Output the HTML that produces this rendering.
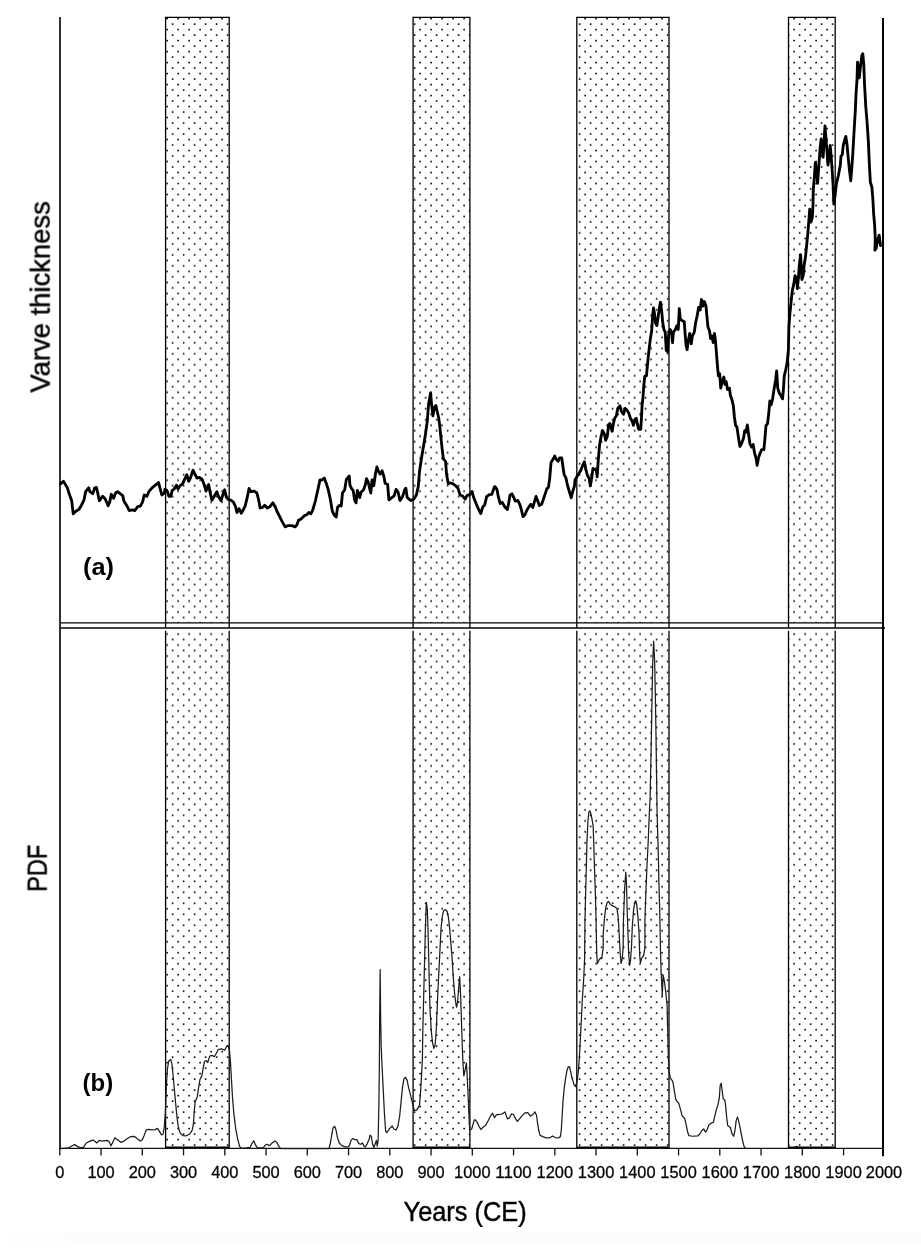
<!DOCTYPE html>
<html><head><meta charset="utf-8"><title>Varve thickness / PDF</title>
<style>html,body{margin:0;padding:0;background:#fff}svg{display:block}text{font-family:"Liberation Sans",sans-serif;fill:#000}</style></head><body>
<svg width="921" height="1250" viewBox="0 0 921 1250">
<defs><pattern id="dots" patternUnits="userSpaceOnUse" x="0" y="0" width="11" height="10.99"><rect x="1.3" y="6.85" width="1.65" height="1.55" fill="#000"/><rect x="6.8" y="1.35" width="1.65" height="1.55" fill="#000"/></pattern></defs>
<rect width="921" height="1250" fill="#fff"/>
<rect x="66" y="1232" width="855" height="10" fill="#fcfcfc"/><rect x="8" y="1233" width="58" height="8" fill="#fdfdfd"/>
<rect x="165.6" y="17.4" width="63.6" height="610.6" fill="url(#dots)"/>
<rect x="165.6" y="630.8" width="63.6" height="516.8" fill="url(#dots)"/>
<rect x="413.1" y="17.4" width="56.8" height="610.6" fill="url(#dots)"/>
<rect x="413.1" y="630.8" width="56.8" height="516.8" fill="url(#dots)"/>
<rect x="576.8" y="17.4" width="92.2" height="610.6" fill="url(#dots)"/>
<rect x="576.8" y="630.8" width="92.2" height="516.8" fill="url(#dots)"/>
<rect x="788.5" y="17.4" width="46.7" height="610.6" fill="url(#dots)"/>
<rect x="788.5" y="630.8" width="46.7" height="516.8" fill="url(#dots)"/>
<rect x="165.6" y="622.9" width="63.6" height="5.1" fill="#fff"/>
<rect x="413.1" y="622.9" width="56.8" height="5.1" fill="#fff"/>
<rect x="576.8" y="622.9" width="92.2" height="5.1" fill="#fff"/>
<rect x="788.5" y="622.9" width="46.7" height="5.1" fill="#fff"/>
<path d="M165.6,628.0 V17.4 H229.2 V628.0" fill="none" stroke="#000" stroke-width="1.3"/>
<path d="M165.6,630.8 V1147.6 H229.2 V630.8" fill="none" stroke="#000" stroke-width="1.3"/>
<line x1="165.6" y1="1147.3" x2="229.2" y2="1147.3" stroke="#000" stroke-width="1.6"/>
<path d="M413.1,628.0 V17.4 H469.9 V628.0" fill="none" stroke="#000" stroke-width="1.3"/>
<path d="M413.1,630.8 V1147.6 H469.9 V630.8" fill="none" stroke="#000" stroke-width="1.3"/>
<line x1="413.1" y1="1147.3" x2="469.9" y2="1147.3" stroke="#000" stroke-width="1.6"/>
<path d="M576.8,628.0 V17.4 H669.0 V628.0" fill="none" stroke="#000" stroke-width="1.3"/>
<path d="M576.8,630.8 V1147.6 H669.0 V630.8" fill="none" stroke="#000" stroke-width="1.3"/>
<line x1="576.8" y1="1147.3" x2="669.0" y2="1147.3" stroke="#000" stroke-width="1.6"/>
<path d="M788.5,628.0 V17.4 H835.2 V628.0" fill="none" stroke="#000" stroke-width="1.3"/>
<path d="M788.5,630.8 V1147.6 H835.2 V630.8" fill="none" stroke="#000" stroke-width="1.3"/>
<line x1="788.5" y1="1147.3" x2="835.2" y2="1147.3" stroke="#000" stroke-width="1.6"/>
<line x1="60" y1="622.9" x2="883" y2="622.9" stroke="#000" stroke-width="1.4"/>
<line x1="60" y1="628.0" x2="885" y2="628.0" stroke="#000" stroke-width="1.3"/>
<line x1="60" y1="17" x2="60" y2="1149.0" stroke="#1a1a1a" stroke-width="1.8"/>
<line x1="883" y1="18" x2="883" y2="1156.2" stroke="#000" stroke-width="2"/>
<line x1="59.2" y1="1148.4" x2="884" y2="1148.4" stroke="#111" stroke-width="1.4"/>
<line x1="59.8" y1="1148.4" x2="59.8" y2="1155.4" stroke="#111" stroke-width="1.3"/>
<line x1="101.05" y1="1148.4" x2="101.05" y2="1155.4" stroke="#111" stroke-width="1.3"/>
<line x1="142.3" y1="1148.4" x2="142.3" y2="1155.4" stroke="#111" stroke-width="1.3"/>
<line x1="183.55" y1="1148.4" x2="183.55" y2="1155.4" stroke="#111" stroke-width="1.3"/>
<line x1="224.8" y1="1148.4" x2="224.8" y2="1155.4" stroke="#111" stroke-width="1.3"/>
<line x1="266.05" y1="1148.4" x2="266.05" y2="1155.4" stroke="#111" stroke-width="1.3"/>
<line x1="307.3" y1="1148.4" x2="307.3" y2="1155.4" stroke="#111" stroke-width="1.3"/>
<line x1="348.55" y1="1148.4" x2="348.55" y2="1155.4" stroke="#111" stroke-width="1.3"/>
<line x1="389.8" y1="1148.4" x2="389.8" y2="1155.4" stroke="#111" stroke-width="1.3"/>
<line x1="431.05" y1="1148.4" x2="431.05" y2="1155.4" stroke="#111" stroke-width="1.3"/>
<line x1="472.3" y1="1148.4" x2="472.3" y2="1155.4" stroke="#111" stroke-width="1.3"/>
<line x1="513.55" y1="1148.4" x2="513.55" y2="1155.4" stroke="#111" stroke-width="1.3"/>
<line x1="554.8" y1="1148.4" x2="554.8" y2="1155.4" stroke="#111" stroke-width="1.3"/>
<line x1="596.05" y1="1148.4" x2="596.05" y2="1155.4" stroke="#111" stroke-width="1.3"/>
<line x1="637.3" y1="1148.4" x2="637.3" y2="1155.4" stroke="#111" stroke-width="1.3"/>
<line x1="678.55" y1="1148.4" x2="678.55" y2="1155.4" stroke="#111" stroke-width="1.3"/>
<line x1="719.8" y1="1148.4" x2="719.8" y2="1155.4" stroke="#111" stroke-width="1.3"/>
<line x1="761.05" y1="1148.4" x2="761.05" y2="1155.4" stroke="#111" stroke-width="1.3"/>
<line x1="802.3" y1="1148.4" x2="802.3" y2="1155.4" stroke="#111" stroke-width="1.3"/>
<line x1="843.55" y1="1148.4" x2="843.55" y2="1155.4" stroke="#111" stroke-width="1.3"/>
<g opacity="0.999" stroke="#111" stroke-width="0.3">
<text x="55.25" y="1178" font-size="16.2" textLength="9.1" lengthAdjust="spacingAndGlyphs" fill="#1a1a1a">0</text>
<text x="87.4" y="1178" font-size="16.2" textLength="27.3" lengthAdjust="spacingAndGlyphs" fill="#1a1a1a">100</text>
<text x="128.65" y="1178" font-size="16.2" textLength="27.3" lengthAdjust="spacingAndGlyphs" fill="#1a1a1a">200</text>
<text x="169.9" y="1178" font-size="16.2" textLength="27.3" lengthAdjust="spacingAndGlyphs" fill="#1a1a1a">300</text>
<text x="211.15" y="1178" font-size="16.2" textLength="27.3" lengthAdjust="spacingAndGlyphs" fill="#1a1a1a">400</text>
<text x="252.4" y="1178" font-size="16.2" textLength="27.3" lengthAdjust="spacingAndGlyphs" fill="#1a1a1a">500</text>
<text x="293.65" y="1178" font-size="16.2" textLength="27.3" lengthAdjust="spacingAndGlyphs" fill="#1a1a1a">600</text>
<text x="334.9" y="1178" font-size="16.2" textLength="27.3" lengthAdjust="spacingAndGlyphs" fill="#1a1a1a">700</text>
<text x="376.15" y="1178" font-size="16.2" textLength="27.3" lengthAdjust="spacingAndGlyphs" fill="#1a1a1a">800</text>
<text x="417.4" y="1178" font-size="16.2" textLength="27.3" lengthAdjust="spacingAndGlyphs" fill="#1a1a1a">900</text>
<text x="454.1" y="1178" font-size="16.2" textLength="36.4" lengthAdjust="spacingAndGlyphs" fill="#1a1a1a">1000</text>
<text x="495.35" y="1178" font-size="16.2" textLength="36.4" lengthAdjust="spacingAndGlyphs" fill="#1a1a1a">1100</text>
<text x="536.6" y="1178" font-size="16.2" textLength="36.4" lengthAdjust="spacingAndGlyphs" fill="#1a1a1a">1200</text>
<text x="577.85" y="1178" font-size="16.2" textLength="36.4" lengthAdjust="spacingAndGlyphs" fill="#1a1a1a">1300</text>
<text x="619.1" y="1178" font-size="16.2" textLength="36.4" lengthAdjust="spacingAndGlyphs" fill="#1a1a1a">1400</text>
<text x="660.35" y="1178" font-size="16.2" textLength="36.4" lengthAdjust="spacingAndGlyphs" fill="#1a1a1a">1500</text>
<text x="701.6" y="1178" font-size="16.2" textLength="36.4" lengthAdjust="spacingAndGlyphs" fill="#1a1a1a">1600</text>
<text x="742.85" y="1178" font-size="16.2" textLength="36.4" lengthAdjust="spacingAndGlyphs" fill="#1a1a1a">1700</text>
<text x="784.1" y="1178" font-size="16.2" textLength="36.4" lengthAdjust="spacingAndGlyphs" fill="#1a1a1a">1800</text>
<text x="825.35" y="1178" font-size="16.2" textLength="36.4" lengthAdjust="spacingAndGlyphs" fill="#1a1a1a">1900</text>
<text x="865.8" y="1178" font-size="16.2" textLength="36.4" lengthAdjust="spacingAndGlyphs" fill="#1a1a1a">2000</text>
<path d="M60.47,483.88 L63.47,481.27 L65.16,484.14 L67.38,487.79 L69.33,494.3 L71.68,500.81 L73.24,513.84 L75.85,511.24 L79.1,509.28 L81.71,504.72 L83.93,500.16 L85.62,491.69 L88.62,487.79 L89.92,491.69 L92.79,493.65 L94.74,487.79 L96.43,487.52 L97.74,493 L99.3,500.81 L102.56,496.25 L105.16,498.86 L108.16,505.77 L109.72,502.12 L111.29,494.3 L113.63,498.21 L115.59,493 L117.54,491.69 L120.15,493.65 L122.75,495.6 L124.06,501.47 L126.66,505.37 L129.27,510.59 L132.52,509.93 L134.74,510.59 L137.74,506.68 L140.34,506.03 L142.56,502.12 L144.25,494.95 L146.86,496.25 L148.81,491.69 L152.07,487.79 L155.33,485.18 L158.58,482.57 L160.28,489.09 L161.84,494.95 L164.45,493 L165,489.09 L166.95,490.39 L168.91,496.25 L170.86,496.25 L172.17,490.39 L174.12,489.09 L176.47,485.18 L178.03,489.09 L179.98,485.83 L182.59,483.88 L184.54,479.32 L186.89,474.76 L188.71,481.27 L190.41,478.01 L193.01,470.2 L194.97,474.1 L196.92,478.01 L199.53,477.36 L202.13,479.32 L204.09,484.53 L206.04,491.04 L208.65,484.53 L209.95,491.69 L211.91,500.16 L214.25,496.25 L216.86,491.69 L218.42,496.25 L221.03,500.81 L222.98,494.3 L224.67,489.74 L226.24,496.91 L228.19,499.51 L230.8,500.16 L233.4,502.12 L235.36,506.03 L236.92,512.54 L239.01,508.63 L241.22,513.19 L243.18,509.93 L245.13,506.03 L247.08,498.21 L249.04,488.44 L250.99,491.69 L254.25,491.04 L256.86,493 L258.55,499.51 L260.11,507.98 L262.72,507.33 L264.67,505.37 L267.28,507.98 L269.89,506.68 L272.88,502.77 L275.1,506.68 L275,506.03 L276.95,511.24 L279.56,516.45 L282.17,521.66 L285.16,526.87 L288.03,525.57 L291.94,525.57 L295.2,526.87 L297.15,524.27 L298.45,520.36 L301.06,519.06 L304.32,515.8 L306.92,514.5 L308.88,512.54 L310.83,513.84 L312.79,509.93 L315.39,500.81 L318,489.09 L319.95,479.97 L321.91,479.97 L324.25,478.01 L326.47,483.88 L328.42,490.39 L330.37,499.51 L332.33,511.24 L334.28,515.15 L336.24,517.1 L337.54,507.33 L339.5,505.37 L341.19,506.03 L342.49,493 L344.71,489.74 L346.4,479.32 L349.27,476.06 L349.92,485.18 L351.87,489.09 L353.18,490.39 L354.48,499.51 L356.04,502.77 L357.35,490.39 L359.69,497.56 L360.99,492.35 L363.6,489.74 L365.55,483.88 L366.47,478.66 L368.16,481.92 L369.46,487.79 L370.77,493 L372.07,479.97 L373.76,485.83 L375.33,474.76 L376.89,466.94 L378.58,471.5 L380.28,474.1 L382.1,470.85 L383.79,476.06 L385.1,483.22 L385.65,483.58 L387.61,484.23 L388.91,499.87 L391.51,497.92 L394.12,495.96 L396.07,489.45 L398.03,492.05 L399.98,500.52 L402.59,496.61 L404.54,490.1 L405.85,488.14 L407.15,497.26 L409.1,499.22 L411.06,500.52 L413.66,499.22 L416.27,495.31 L418.22,486.84 L419.53,471.21 L421.48,458.18 L423.44,446.45 L425.39,434.72 L427.35,420.39 L428.65,403.45 L430.6,393.03 L431.64,404.76 L432.95,415.83 L434.25,408.01 L435.81,405.41 L437.12,411.27 L438.68,417.79 L439.72,425.6 L441.03,438.63 L442.33,450.36 L443.37,458.83 L445.59,461.43 L446.5,473.81 L448.19,483.58 L450.15,482.93 L452.75,483.58 L455.36,485.54 L457.96,488.14 L459.92,494.66 L462.52,495.96 L465.13,499.22 L467.08,495.31 L469.69,494.66 L472.04,491.4 L473.6,497.26 L476.21,503.78 L478.16,508.34 L480.77,513.55 L482.72,507.04 L484.67,505.08 L486.63,496.61 L489.23,494.66 L491.84,494.4 L494.45,486.84 L495,486.68 L496.95,489.28 L498.26,496.45 L500.21,503.62 L502.17,502.31 L504.77,506.87 L507.38,509.48 L508.68,502.96 L509.98,495.15 L511.94,493.84 L513.89,497.75 L515.2,501.01 L517.8,500.36 L519.76,504.27 L521.32,509.48 L523.01,516.64 L524.97,514.69 L526.92,510.13 L528.88,506.87 L530.83,504.27 L532.79,507.52 L534.09,502.96 L536.04,496.45 L538,501.66 L539.3,505.57 L541.64,504.27 L543.21,499.71 L545.16,493.84 L546.86,488.63 L548.42,487.33 L549.72,478.21 L551.03,462.57 L552.98,459.32 L554.67,456.06 L556.24,459.32 L558.19,461.27 L559.5,458.01 L561.71,458.01 L562.75,465.18 L564.06,474.3 L566.01,478.21 L567.31,484.72 L569.27,491.24 L571.22,497.75 L572.79,491.24 L574.48,486.03 L575,480.07 L577.61,475.5 L580.86,470.29 L582.82,465.08 L584.38,461.82 L585.68,468.34 L587.38,475.5 L589.07,478.11 L590.37,485.93 L591.68,478.11 L592.98,468.34 L594.54,469.64 L596.11,468.99 L597.15,476.81 L598.19,461.17 L599.5,445.54 L601.06,436.42 L602.62,430.55 L604.32,433.81 L605.62,440.33 L607.31,436.42 L608.62,424.69 L609.92,423.39 L611.22,428.6 L612.13,431.21 L613.44,423.39 L614.74,418.18 L616.43,415.57 L617.74,408.4 L619.95,405.8 L621.25,411.01 L623.47,414.27 L625.16,408.4 L627.12,410.36 L628.68,412.96 L630.37,418.18 L632.33,421.43 L633.37,425.34 L634.93,419.48 L636.24,418.18 L637.54,424.69 L638.58,429.25 L640.8,429.25 L641.45,418.18 L642.1,405.15 L643.01,397.33 L643.79,385.6 L644.77,376.42 L646.47,375.77 L647.38,365.99 L648.68,352.96 L650.37,338.63 L651.68,330.81 L652.59,316.48 L653.5,308.01 L654.54,313.88 L655.59,323 L656.89,325.6 L658.19,316.48 L659.1,309.97 L660.41,302.15 L661.71,311.27 L662.62,321.69 L663.93,329.51 L665.23,332.12 L666.27,350.36 L667.57,351.66 L668.62,334.72 L670.18,329.51 L671.48,332.12 L672.52,342.54 L673.44,332.12 L675.39,329.51 L676.95,325.6 L678.26,329.51 L679.3,308.66 L680.34,319.09 L681.91,320.39 L684.25,321.69 L685.16,334.72 L686.07,345.15 L687.12,349.71 L688.42,339.93 L689.72,333.42 L691.29,343.84 L692.33,336.03 L694.28,332.12 L695.59,323 L697.28,315.18 L698.58,307.36 L700.15,309.97 L701.45,299.54 L703.01,306.06 L704.32,301.5 L706.01,306.06 L706.92,316.48 L707.96,326.91 L709.53,330.81 L710.57,338.63 L712.13,336.03 L713.18,342.54 L714.48,333.42 L715.52,341.24 L716.43,352.96 L717.35,364.69 L718.39,375.77 L719.69,373.81 L720.73,388.14 L722.04,381.63 L723.86,377.07 L724.9,384.23 L726.21,381.63 L727.51,389.45 L729.46,388.14 L730.41,395.6 L732.1,400.16 L733.4,406.03 L734.32,416.45 L735.62,425.57 L736.92,426.87 L738.22,435.99 L739.92,446.42 L741.48,443.81 L743.44,438.6 L744.74,430.78 L746.04,432.08 L747.35,424.92 L748.65,434.69 L749.95,443.81 L751.64,447.07 L753.21,444.46 L754.51,452.93 L756.07,458.14 L757.12,465.31 L758.42,458.14 L759.72,454.23 L761.68,449.67 L763.89,449.67 L764.93,438.6 L765.98,425.57 L767.54,423.62 L768.84,412.54 L769.89,400.81 L771.19,404.72 L772.49,399.51 L774.06,389.09 L775.62,379.97 L776.66,370.85 L777.7,387.79 L779.27,393 L780.83,395.6 L782.52,398.86 L783.44,389.09 L784.22,376.06 L785.78,369.54 L787.08,363.03 L788.39,350 L788.89,327.69 L789.8,314.66 L791.11,301.63 L792.41,289.9 L793.71,284.69 L795.02,275.57 L796.71,278.18 L797.36,288.6 L798.4,278.18 L799.32,265.15 L800.62,254.72 L801.27,267.75 L801.92,279.48 L803.22,275.57 L804.14,265.15 L805.44,257.33 L806.48,246.91 L807.79,233.88 L808.83,220.85 L809.74,209.12 L811.04,222.15 L812.35,216.94 L813,205.21 L813.26,189.84 L814.3,178.11 L815.34,162.48 L816.64,170.29 L817.56,183.32 L818.86,165.08 L820.16,148.14 L821.07,139.02 L822.12,148.14 L823.16,157.26 L824.07,141.63 L824.98,125.99 L826.03,139.02 L827.07,152.05 L827.98,165.08 L829.28,154.66 L830.2,145.54 L831.24,157.26 L832.28,171.6 L833.19,187.23 L833.84,204.17 L835.15,195.05 L836.45,183.32 L838.4,175.5 L840.36,165.08 L841.01,155.96 L842.31,154.66 L843.22,145.54 L844.92,139.02 L845.83,136.42 L847.13,145.54 L848.18,157.26 L849.48,170.29 L850.78,180.72 L851.82,167.69 L852.74,154.66 L853.65,139.02 L854.69,120.78 L855.34,110.36 L855.99,94.72 L857.04,79.09 L857.56,62.15 L859.25,77.79 L860.55,66.06 L861.86,55.64 L862.77,53.68 L863.81,64.76 L864.46,83 L865.77,106.45 L867.07,122.08 L868.37,141.63 L869.28,162.48 L870.33,182.02 L871.89,187.23 L872.93,200 L873.58,213.03 L874.63,224.76 L875.28,239.09 L874.89,250.16 L876.19,248.21 L877.49,240.39 L879.19,235.18 L880.49,245.6" fill="none" stroke="#000" stroke-width="2.85" stroke-linejoin="round" stroke-linecap="round"/>
<path d="M60.21,1148.57 L68.03,1148.18 L71.29,1146.22 L74.54,1144.66 L77.8,1146.61 L81.06,1147.92 L83.66,1147.13 L86.27,1142.96 L89.53,1141.4 L92.79,1140.1 L94.74,1141.01 L96.69,1142.96 L99.3,1140.36 L101.91,1141.01 L107.12,1140.36 L109.07,1141.66 L111.03,1145.83 L112.98,1141.66 L114.93,1137.75 L117.54,1139.71 L120.8,1142.31 L123.4,1141.4 L126.66,1139.06 L130.57,1136.71 L134.48,1136.45 L137.74,1139.06 L140.34,1141.01 L142.3,1139.71 L144.25,1135.15 L146.21,1129.93 L148.81,1129.28 L152.07,1129.93 L155,1129.67 L157.61,1128.37 L159.56,1131.63 L161.51,1134.89 L163.08,1134.23 L164.38,1126.42 L165.42,1110.78 L166.47,1084.72 L167.38,1069.09 L168.68,1061.27 L170.64,1059.32 L171.94,1063.88 L173.24,1076.91 L174.54,1091.24 L175.85,1105.57 L177.15,1118.6 L178.45,1127.72 L180.41,1133.58 L183.01,1135.54 L186.27,1135.8 L189.53,1134.23 L192.13,1130.33 L193.44,1123.81 L194.09,1113.39 L195.13,1101.66 L197.35,1096.45 L198.65,1087.33 L199.95,1079.51 L201.91,1075.6 L203.21,1067.79 L204.51,1061.27 L206.47,1060.62 L207.77,1062.57 L209.72,1056.06 L212.33,1055.41 L214.28,1056.71 L216.24,1053.45 L218.19,1049.54 L221.45,1048.89 L224.71,1050.2 L226.66,1046.29 L228.22,1045.64 L229.53,1050.85 L230.57,1063.88 L231.61,1082.12 L232.52,1097.75 L233.83,1113.39 L235.78,1129.02 L237.74,1139.45 L239.69,1146.61 L241.64,1148.31 L246.21,1147.92 L250.11,1147.26 L252.07,1143.36 L253.76,1140.75 L255.33,1144.66 L257.28,1147.92 L263.14,1147.92 L265,1145.57 L266.95,1144.27 L269.56,1145.57 L272.17,1142.96 L274.77,1141.01 L276.73,1142.31 L278.68,1146.22 L280.64,1148.57 L328.84,1148.57 L330.15,1144.27 L331.71,1135.15 L333.01,1127.98 L334.71,1126.29 L336.01,1129.93 L337.31,1137.1 L339.27,1142.96 L341.87,1145.57 L345.13,1146.87 L348.39,1146.87 L349.69,1144.92 L350.99,1140.36 L352.95,1138.4 L354.9,1139.71 L356.86,1139.71 L358.81,1143.62 L360.77,1144.27 L362.46,1142.96 L364.02,1146.22 L365.33,1146.87 L367.28,1143.62 L369.23,1139.06 L370,1135.11 L371.3,1136.42 L372.61,1144.23 L373.91,1147.49 L375.47,1142.93 L376.51,1140.33 L377.17,1146.19 L378.08,1141.63 L378.86,1105.15 L379.38,1066.06 L379.64,1020.29 L380.16,969.74 L380.68,1020.29 L381.21,1046.51 L381.73,1059.54 L383.03,1085.6 L384.33,1111.66 L385.64,1131.21 L386.94,1132.51 L389.54,1128.6 L392.15,1125.99 L394.1,1129.25 L396.06,1129.9 L398.01,1125.99 L399.71,1115.57 L401.27,1099.93 L402.57,1086.91 L403.88,1079.09 L405.44,1077.13 L407.13,1080.39 L408.44,1086.91 L410.39,1094.72 L412.35,1102.54 L414.3,1110.36 L416.25,1110.36 L418.21,1107.75 L419.51,1105.15 L420.55,1092.12 L421.47,1076.48 L422.38,1059.54 L422.77,1033.32 L423.42,1007.26 L424.07,981.21 L424.72,955.15 L425.37,929.09 L426.03,909.54 L426.42,902.38 L427.33,909.54 L427.98,929.09 L428.63,955.15 L429.28,981.21 L429.93,1007.26 L431.24,1030.72 L432.54,1042.44 L433.84,1048.31 L435.15,1045.05 L436.45,1026.81 L437.49,1000.75 L438.4,981.21 L439.71,955.15 L441.01,929.09 L442.31,916.06 L443.62,910.85 L445.57,909.54 L447.13,911.5 L448.44,917.36 L449.74,929.09 L450.78,942.12 L452.08,957.75 L453.39,978.6 L454.69,994.23 L455.99,1004.66 L456.64,1007.26 L457.56,1002.05 L458.6,989.02 L459.64,976.64 L460.55,994.23 L461.21,1013.78 L461.86,1033.32 L462.51,1053.03 L463.16,1066.06 L463.81,1075.83 L465.11,1069.97 L466.42,1062.8 L467.07,1073.88 L467.98,1092.12 L468.76,1111.66 L469.67,1129.9 L471.63,1129.25 L472.93,1124.69 L474.23,1120.13 L475,1119.71 L476.95,1121.66 L478.91,1126.22 L480.86,1129.48 L482.82,1127.52 L485.42,1125.57 L488.03,1121.01 L490.64,1115.8 L492.59,1113.19 L494.54,1117.75 L496.5,1114.5 L499.1,1114.5 L502.36,1113.84 L504.97,1111.89 L506.27,1115.8 L507.57,1119.06 L509.53,1117.75 L511.48,1113.84 L513.44,1114.5 L515.39,1118.4 L517.35,1121.4 L519.95,1118.4 L522.56,1115.15 L525.16,1112.8 L527.77,1112.54 L530.37,1116.19 L532.98,1114.5 L534.93,1111.89 L536.5,1115.15 L537.54,1122.96 L538.84,1130.78 L540.15,1135.34 L542.75,1136.64 L546.01,1137.95 L549.27,1137.95 L552.52,1135.99 L555.13,1137.56 L558.39,1137.95 L560.34,1136.64 L561.25,1130.78 L562.04,1117.75 L562.95,1102.12 L564.25,1087.79 L565.55,1078.66 L566.86,1070.85 L568.16,1066.94 L569.46,1066.68 L570.77,1072.15 L572.07,1078.66 L571.95,1076.81 L573.91,1084.63 L575.47,1086.58 L577.17,1080.72 L578.47,1070.29 L579.77,1050.75 L581.07,1024.69 L582.38,998.63 L583.68,979.09 L584.59,959.54 L584.98,920.29 L585.64,894.23 L586.29,868.18 L586.94,842.12 L587.98,819.97 L588.89,812.15 L589.8,810.85 L590.85,813.45 L592.15,819.97 L593.19,826.48 L593.71,842.12 L594.5,868.18 L595.41,894.23 L596.06,920.29 L596.71,953.03 L597.36,963.45 L599.32,959.54 L601.92,956.94 L603.22,947.82 L603.22,933.32 L604.53,917.69 L605.83,907.26 L607.13,902.7 L608.44,901.4 L609.74,903.36 L611.43,905.31 L614.3,906.61 L616.91,908.57 L617.95,915.08 L618.86,928.11 L620.16,953.03 L621.07,963.45 L622.12,959.54 L623.16,947.82 L623.42,920.29 L624.72,887.72 L625.77,872.08 L626.42,881.21 L627.07,907.26 L627.98,933.32 L628.63,953.03 L629.67,965.41 L630.59,959.54 L631.5,946.51 L632.28,926.81 L633.58,909.87 L634.89,902.05 L635.8,900.75 L636.71,904.66 L637.75,915.08 L639.06,933.32 L639.71,955.64 L640.36,962.8 L641.66,958.24 L643.62,955.64 L644.92,947.82 L644.92,920.29 L645.83,894.23 L646.87,868.18 L648.18,842.12 L649.22,816.06 L650.13,796.51 L651.43,734.23 L652.08,695.15 L652.74,662.57 L653.65,641.07 L654.69,662.57 L655.34,695.15 L655.99,734.23 L657.04,809.54 L657.56,829.09 L658.34,855.15 L658.86,881.21 L659.64,907.26 L660.16,933.32 L660.55,953.03 L661.21,973.88 L661.86,985.6 L662.25,996.03 L662.77,984.3 L663.16,975.18 L664.46,981.69 L665.77,992.12 L667.07,1005.15 L667.72,1031.21 L668.37,1057.26 L669.02,1070.29 L669.38,1073.45 L670.42,1078.01 L672.77,1081.27 L674.07,1089.09 L675.64,1098.86 L676.94,1101.47 L678.89,1103.42 L680.59,1109.93 L682.15,1115.8 L684.76,1118.4 L686.06,1124.27 L687.62,1132.08 L688.93,1135.73 L692.57,1136.25 L697.79,1135.99 L699.74,1134.04 L701.69,1130.78 L703.65,1128.83 L705.6,1132.08 L707.17,1129.48 L708.86,1124.92 L711.47,1122.96 L713.42,1122.31 L714.72,1116.45 L716.29,1109.93 L717.98,1104.72 L719.28,1098.21 L720.2,1085.18 L721.24,1083.22 L722.28,1091.69 L723.19,1098.86 L724.89,1100.16 L725.8,1107.33 L726.71,1117.75 L727.75,1125.57 L730.36,1127.52 L731.92,1133.39 L733.62,1136.25 L734.92,1130.78 L736.22,1120.36 L737.52,1117.1 L738.83,1121.66 L740.13,1128.18 L741.43,1134.69 L742.74,1141.21 L744.04,1146.42 L745.34,1147.98" fill="none" stroke="#1c1c1c" stroke-width="1.25" stroke-linejoin="round" stroke-linecap="round"/>
<path d="M794.5,1147.3 L796.6,1146.3 L798.6,1147.3" fill="none" stroke="#1c1c1c" stroke-width="1.2"/>
<text x="83" y="575" font-size="24" font-weight="bold" stroke="none" textLength="31" lengthAdjust="spacingAndGlyphs">(a)</text>
<text x="82.6" y="1090.8" font-size="24" font-weight="bold" stroke="none">(b)</text>
<text x="403.6" y="1220.5" font-size="27.5" textLength="123" lengthAdjust="spacingAndGlyphs" fill="#111" stroke-width="0.5">Years (CE)</text>
<text transform="translate(49.7,392.6) rotate(-90)" font-size="28.5" textLength="191.5" lengthAdjust="spacingAndGlyphs" fill="#111" stroke-width="0.5">Varve thickness</text>
<text transform="translate(46.7,891.8) rotate(-90)" font-size="28" textLength="47" lengthAdjust="spacingAndGlyphs" fill="#111" stroke-width="0.5">PDF</text>
</g>
</svg></body></html>
